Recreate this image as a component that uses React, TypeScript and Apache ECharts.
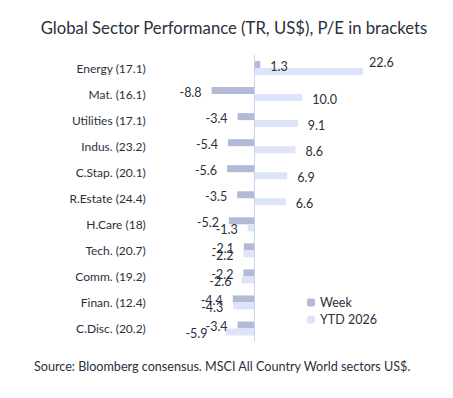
import React, { useEffect, useRef } from "react";
import * as echarts from "echarts";

const categories = [
  "Energy (17.1)",
  "Mat. (16.1)",
  "Utilities (17.1)",
  "Indus. (23.2)",
  "C.Stap. (20.1)",
  "R.Estate (24.4)",
  "H.Care (18)",
  "Tech. (20.7)",
  "Comm. (19.2)",
  "Finan. (12.4)",
  "C.Disc. (20.2)",
];
const weekValues = [1.3, -8.8, -3.4, -5.4, -5.6, -3.5, -5.2, -2.1, -2.2, -4.4, -3.4];
const ytdValues = [22.6, 10.0, 9.1, 8.6, 6.9, 6.6, -1.3, -2.2, -2.6, -4.3, -5.9];

const FONT = "Lato, 'DejaVu Sans', sans-serif";
const TEXT = "#2b303c";

export default function App() {
  const ref = useRef<HTMLDivElement>(null);
  useEffect(() => {
    document.body.style.margin = "0";
    if (!ref.current) return;
    const chart = echarts.init(ref.current, undefined, { renderer: "svg" });
    const lbl = (v: number, extra: any = {}) => ({
      show: true,
      position: v < 0 ? "left" : "right",
      distance: 10,
      fontFamily: FONT,
      fontSize: 12.5,
      color: TEXT,
      formatter: (p: any) => Number(p.value).toFixed(1),
      ...extra,
    });
    chart.setOption({
      animation: false,
      textStyle: { fontFamily: FONT },
      title: [
        {
          text: "Global Sector Performance (TR, US$), P/E in brackets",
          left: 229,
          textAlign: "center",
          top: 14,
          textStyle: { fontFamily: FONT, fontSize: 16.7, fontWeight: "normal", color: TEXT },
        },
        {
          text: "Source: Bloomberg consensus. MSCI All Country World sectors US$.",
          left: 29,
          top: 355,
          textStyle: { fontFamily: FONT, fontSize: 12.6, fontWeight: "normal", color: TEXT },
        },
      ],
      legend: {
        orient: "vertical",
        left: 302,
        top: 291,
        itemWidth: 8,
        itemHeight: 8,
        itemGap: 4,
        textStyle: { fontFamily: FONT, fontSize: 12.5, color: TEXT },
        data: ["Week", "YTD 2026"],
      },
      grid: { left: 205.8, right: 78.5, top: 55, bottom: 56.5, containLabel: false },
      xAxis: {
        type: "value",
        min: -10,
        max: 25,
        show: false,
      },
      yAxis: {
        type: "category",
        data: categories,
        inverse: true,
        axisLine: { show: false },
        axisTick: { show: false },
        axisLabel: { margin: 60, fontFamily: FONT, fontSize: 12, color: TEXT },
      },
      series: [
        {
          name: "Week",
          type: "bar",
          barWidth: 7,
          barGap: "0%",
          itemStyle: { color: "#b3bad8" },
          data: weekValues.map((v) => ({ value: v, label: lbl(v, { offset: [0, 1.5] }) })),
          markLine: {
            silent: true,
            symbol: "none",
            label: { show: false },
            lineStyle: { color: "#c8d3ee", type: "solid", width: 1 },
            data: [{ xAxis: 0 }],
          },
        },
        {
          name: "YTD 2026",
          type: "bar",
          barWidth: 7,
          barGap: "0%",
          itemStyle: { color: "#dde4fa" },
          data: ytdValues.map((v, i) => ({
            value: v,
            label:
              i === 0
                ? lbl(v, { offset: [-4, -9] })
                : i === ytdValues.length - 1
                ? lbl(v, { offset: [-8, 2] })
                : lbl(v, { offset: [0, 2] }),
          })),
        },
      ],
    });
    return () => chart.dispose();
  }, []);
  return <div ref={ref} style={{ width: 453, height: 398 }} />;
}
